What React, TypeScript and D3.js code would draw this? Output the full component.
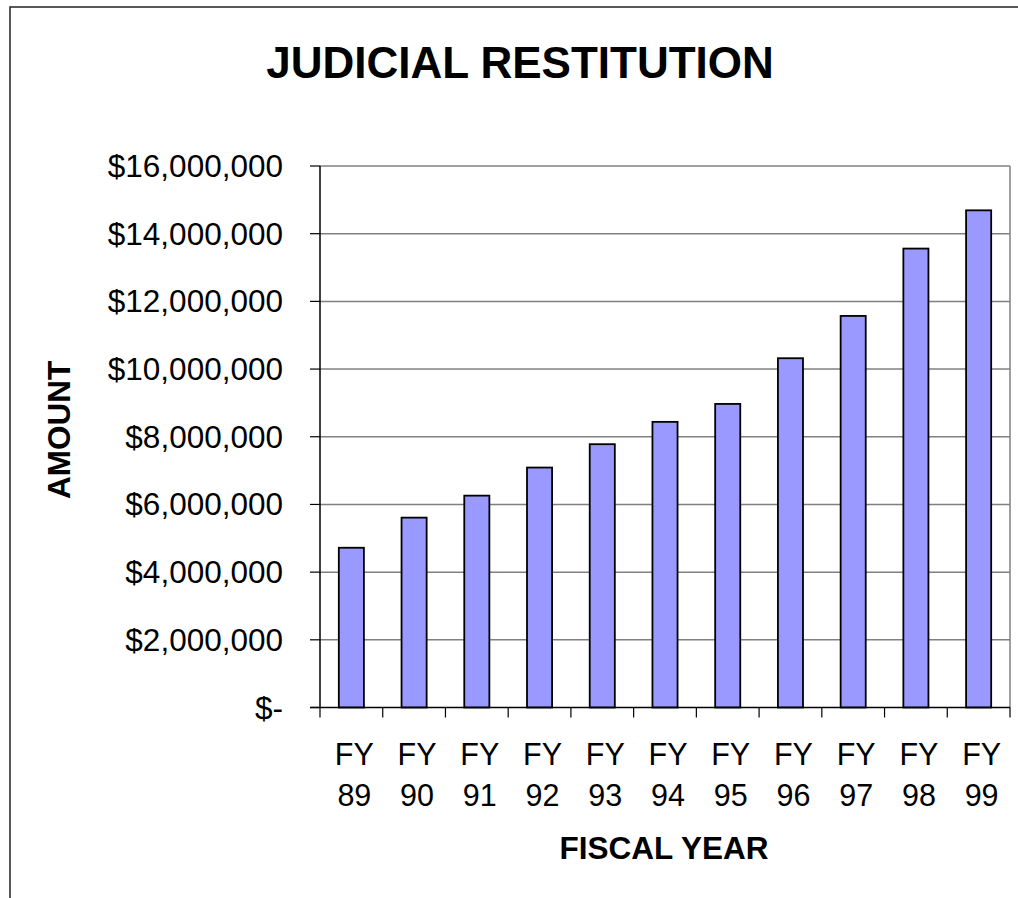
import React from "react";
import * as d3 from "d3";

const years = ["89", "90", "91", "92", "93", "94", "95", "96", "97", "98", "99"];
const amounts = [
  4720000, 5610000, 6260000, 7090000, 7780000, 8440000, 8970000, 10320000, 11570000, 13560000,
  14690000,
];
const yTicks = [0, 2000000, 4000000, 6000000, 8000000, 10000000, 12000000, 14000000, 16000000];

const W = 1018;
const H = 898;
const plot = { left: 320, right: 1010, top: 166, bottom: 707.5 };
const font = "'Liberation Sans', Arial, sans-serif";

const fmt = (v: number) => (v === 0 ? "$-" : "$" + d3.format(",")(v));

const App = () => {
  const x = d3
    .scaleBand()
    .domain(years)
    .range([plot.left, plot.right])
    .paddingInner(0.6)
    .paddingOuter(0.3);
  const y = d3.scaleLinear().domain([0, 16000000]).range([plot.bottom, plot.top]);
  const step = x.step();
  const edges = d3.range(years.length + 1).map((i) => plot.left + i * step);

  return (
    <svg
      width={W}
      height={H}
      style={{ position: "absolute", left: 0, top: 0, display: "block", background: "#fff" }}
      fontFamily={font}
    >
      {/* outer chart frame */}
      <rect x={10} y={7} width={1100} height={1000} fill="none" stroke="#222" strokeWidth={1.5} />

      <text x={520} y={78} textAnchor="middle" fontSize={44} fontWeight="bold">
        JUDICIAL RESTITUTION
      </text>

      {/* gridlines */}
      {yTicks.slice(1).map((t) => (
        <line key={t} x1={plot.left} x2={plot.right} y1={y(t)} y2={y(t)} stroke="#808080" strokeWidth={1.5} />
      ))}
      <line x1={plot.right} x2={plot.right} y1={plot.top} y2={plot.bottom} stroke="#808080" strokeWidth={1.5} />

      {/* bars */}
      {amounts.map((v, i) => (
        <rect
          key={years[i]}
          x={x(years[i])}
          y={y(v)}
          width={x.bandwidth()}
          height={plot.bottom - y(v)}
          fill="#9999FF"
          stroke="#000"
          strokeWidth={1.8}
        />
      ))}

      {/* axes */}
      <line x1={plot.left} x2={plot.left} y1={plot.top} y2={plot.bottom} stroke="#000" strokeWidth={1.5} />
      <line x1={plot.left - 10} x2={plot.right} y1={plot.bottom} y2={plot.bottom} stroke="#000" strokeWidth={1.5} />
      {yTicks.map((t) => (
        <g key={t}>
          <line x1={plot.left - 10} x2={plot.left} y1={y(t)} y2={y(t)} stroke="#000" strokeWidth={1.2} />
          <text x={283} y={y(t) + 11} textAnchor="end" fontSize={31.5}>
            {fmt(t)}
          </text>
        </g>
      ))}
      {edges.map((e, i) => (
        <line key={i} x1={e} x2={e} y1={plot.bottom} y2={plot.bottom + 10} stroke="#000" strokeWidth={1.2} />
      ))}
      {years.map((yr) => {
        const cx = (x(yr) as number) + x.bandwidth() / 2 + 3;
        return (
          <text key={yr} x={cx} textAnchor="middle" fontSize={30.5}>
            <tspan x={cx} y={765}>FY</tspan>
            <tspan x={cx} y={806}>{yr}</tspan>
          </text>
        );
      })}

      <text x={664} y={859} textAnchor="middle" fontSize={31.5} fontWeight="bold">
        FISCAL YEAR
      </text>
      <text
        transform="translate(70,430) rotate(-90)"
        textAnchor="middle"
        fontSize={31.5}
        fontWeight="bold"
      >
        AMOUNT
      </text>
    </svg>
  );
};

export default App;
